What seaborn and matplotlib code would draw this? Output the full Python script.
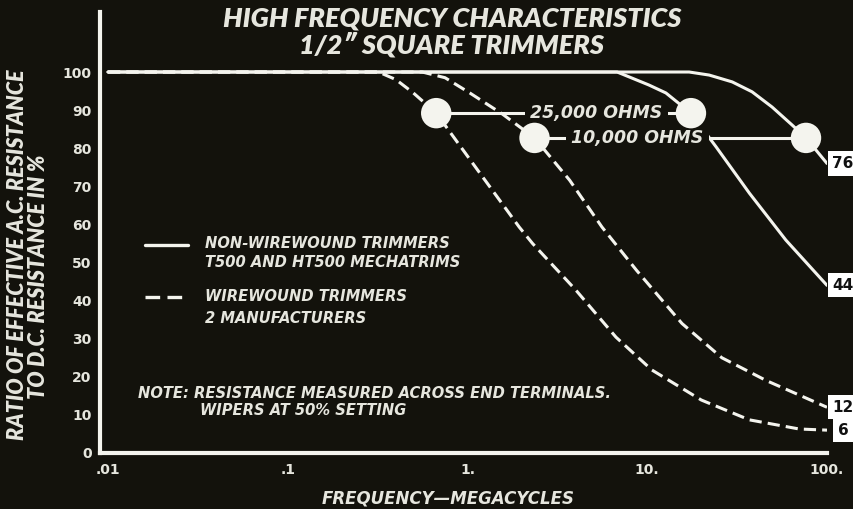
import matplotlib
matplotlib.use("Agg")
import matplotlib.pyplot as plt
import seaborn as sns
import pandas as pd

# Frequency (megacycles) vs ratio of a.c. to d.c. resistance (%)
wire_25k_freq = [0.01, 0.32, 0.40, 0.50, 0.67, 1.17, 1.94, 2.3, 4.0, 6.7, 10.6, 20, 37, 70, 100]
wire_25k_pct = [100, 100, 98, 94.5, 89.2, 73.5, 59.3, 55, 42.8, 30.4, 21.8, 13.9, 8.7, 6.3, 6]

wire_10k_freq = [0.01, 0.56, 0.75, 1.03, 1.56, 2.36, 3.7, 5.6, 8.7, 15.6, 26, 46, 100]
wire_10k_pct = [100, 100, 98.5, 94.5, 89, 82.7, 71.6, 59.3, 48, 34, 25, 19, 12]

film_25k_freq = [0.01, 6.8, 10.2, 12.7, 17.5, 24.2, 37, 59, 100]
film_25k_pct = [100, 100, 96.6, 94.5, 89.2, 80.3, 68.2, 55.9, 44]

film_10k_freq = [0.01, 17.1, 22.1, 29.7, 38.3, 49.5, 63.9, 76.4, 100]
film_10k_pct = [100, 100, 99.2, 97.4, 94.8, 90.8, 86.1, 82.7, 76]

# Resistance call-out markers (one on each curve)
marker_freq_25k = [0.67, 17.5]
marker_pct_25k = [89.2, 89.2]
marker_freq_10k = [2.36, 76.4]
marker_pct_10k = [82.7, 82.7]

end_values = [76, 44, 12, 6]
x_ticks = [0.01, 0.1, 1, 10, 100]
x_tick_labels = [".01", ".1", "1.", "10.", "100."]
y_ticks = list(range(0, 101, 10))

BG = "#13120c"
FG = "#f4f4ee"
TXT = "#e6e6de"

sns.set_theme(style="dark")
plt.rcParams["font.family"] = ["DejaVu Sans"]
CONDENSED = ["Lato", "DejaVu Sans"]

fig = plt.figure(figsize=(8.54, 5.09), dpi=100, facecolor=BG)
ax = fig.add_axes([100 / 854, 56 / 509, 727 / 854, 441 / 509])
ax.set_facecolor(BG)

dash = (0, (4, 2))
for f, p, ls in [
    (film_25k_freq, film_25k_pct, "-"),
    (film_10k_freq, film_10k_pct, "-"),
    (wire_25k_freq, wire_25k_pct, dash),
    (wire_10k_freq, wire_10k_pct, dash),
]:
    df = pd.DataFrame({"freq": f, "pct": p})
    sns.lineplot(data=df, x="freq", y="pct", ax=ax, color=FG, linewidth=2.2,
                 linestyle=ls, estimator=None, sort=False, zorder=3)

# connector lines between paired markers
ax.plot(marker_freq_25k, marker_pct_25k, color=FG, lw=2.2, zorder=4)
ax.plot(marker_freq_10k, marker_pct_10k, color=FG, lw=2.2, zorder=4)

sns.scatterplot(x=marker_freq_25k + marker_freq_10k,
                y=marker_pct_25k + marker_pct_10k,
                ax=ax, s=480, color=FG, edgecolor="none", zorder=6)

label_font = dict(fontsize=12.5, fontweight="bold", style="italic", color=TXT,
                  ha="center", va="center", zorder=5,
                  bbox=dict(boxstyle="square,pad=0.3", fc=BG, ec="none"))
ax.text(5.2, marker_pct_25k[0], "25,000 OHMS", **label_font)
ax.text(8.8, marker_pct_10k[0], "10,000 OHMS", **label_font)

for v in end_values:
    ax.annotate(str(v), xy=(100, v), xytext=(11.5, 0), textcoords="offset points",
                ha="center", va="center", fontsize=11, fontweight="bold",
                color="#111111", annotation_clip=False, zorder=7,
                bbox=dict(boxstyle="square,pad=0.3", fc="white", ec="none"))

ax.set_xscale("log")
ax.set_xlim(10 ** (-2 - 8 / 180), 100)
ax.set_ylim(0, 115.75)
ax.set_xticks(x_ticks)
ax.set_xticklabels(x_tick_labels)
ax.xaxis.set_minor_locator(matplotlib.ticker.NullLocator())
ax.set_yticks(y_ticks)
ax.set_yticklabels([str(v) for v in y_ticks])
ax.tick_params(axis="x", direction="in", length=7, width=2, color=FG,
               labelcolor=TXT, labelsize=10, pad=7)
ax.tick_params(axis="y", length=0, labelcolor=TXT, labelsize=10, pad=6)
for lab in ax.get_xticklabels() + ax.get_yticklabels():
    lab.set_fontweight("bold")
ax.xaxis.get_major_ticks()[0].tick1line.set_visible(False)
ax.grid(False)

for side in ["top", "right"]:
    ax.spines[side].set_visible(False)
for side in ["left", "bottom"]:
    ax.spines[side].set_visible(True)
    ax.spines[side].set_color(FG)
    ax.spines[side].set_linewidth(3)

ax.set_xlabel("")
ax.set_ylabel("")

fig.text(452 / 854, 1 - 18 / 509, "HIGH FREQUENCY CHARACTERISTICS", ha="center",
         va="center", fontsize=19.5, fontweight="heavy", style="italic", color=TXT,
         family=CONDENSED)
fig.text(452 / 854, 1 - 45 / 509, "1/2\u2033 SQUARE TRIMMERS", ha="center",
         va="center", fontsize=19.5, fontweight="heavy", style="italic", color=TXT,
         family=CONDENSED)
fig.text(448 / 854, 1 - 498 / 509, "FREQUENCY\u2014MEGACYCLES", ha="center",
         va="center", fontsize=12, fontweight="bold", style="italic", color=TXT)
fig.text(18 / 854, 1 - 255 / 509, "RATIO OF EFFECTIVE A.C. RESISTANCE",
         ha="center", va="center", rotation=90, fontsize=15.5, fontweight="heavy",
         style="italic", color=TXT, family=CONDENSED)
fig.text(39 / 854, 1 - 277 / 509, "TO D.C. RESISTANCE IN %",
         ha="center", va="center", rotation=90, fontsize=15.5, fontweight="heavy",
         style="italic", color=TXT, family=CONDENSED)

# key
tf = ax.transAxes
ax.plot([0.062, 0.121], [0.472, 0.472], color=FG, lw=2.4, transform=tf)
ax.plot([0.062, 0.121], [0.354, 0.354], color=FG, lw=2.4, linestyle=(0, (4.4, 2.2)),
        transform=tf)
key_font = dict(fontsize=10.6, fontweight="bold", style="italic", color=TXT,
                ha="left", va="center", transform=tf)
ax.text(0.144, 0.476, "NON-WIREWOUND TRIMMERS", **key_font)
ax.text(0.144, 0.431, "T500 AND HT500 MECHATRIMS", **key_font)
ax.text(0.144, 0.354, "WIREWOUND TRIMMERS", **key_font)
ax.text(0.144, 0.306, "2 MANUFACTURERS", **key_font)
ax.text(0.052, 0.136, "NOTE: RESISTANCE MEASURED ACROSS END TERMINALS.", **key_font)
ax.text(0.1376, 0.0975, "WIPERS AT 50% SETTING", **key_font)

fig.savefig("out.png", dpi=100, facecolor=BG)
